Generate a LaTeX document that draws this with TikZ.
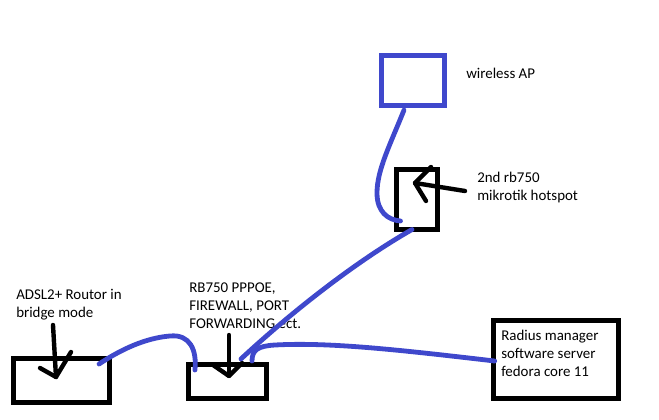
\documentclass[tikz,border=0pt]{standalone}
\usepackage{fontspec}
\setmainfont{Carlito}
\usepackage{xcolor}
\definecolor{penblue}{RGB}{63,72,204}
\tikzset{
	blackbox/.style={draw=black,line width=3.5pt,inner sep=0pt},
	bluebox/.style={draw=penblue,line width=3.5pt,inner sep=0pt},
	bluewire/.style={draw=penblue,line width=3.6pt,line cap=round},
	penarrow/.style={draw=black,line width=3.3pt,line cap=round,line join=round},
	note/.style={anchor=north west,inner sep=0pt,align=left,font=\fontsize{11.2}{13.5}\selectfont}
}

\begin{document}
\begin{tikzpicture}[x=0.75pt,y=-0.75pt]
\useasboundingbox (0,0) rectangle (659,420);

% boxes
\node[blackbox,minimum width=96.5*0.75pt,minimum height=44.5*0.75pt] (router) at (61.5,380.5) {};
\node[blackbox,minimum width=78.5*0.75pt,minimum height=34.5*0.75pt] (rb) at (227.5,381.5) {};
\node[bluebox,minimum width=63.5*0.75pt,minimum height=50.5*0.75pt] (ap) at (413,80.5) {};
\node[blackbox,line width=3.8pt,minimum width=41*0.75pt,minimum height=60*0.75pt] (hotspot) at (417,199.5) {};
\node[blackbox,minimum width=125.5*0.75pt,minimum height=78.5*0.75pt] (server) at (556,359.5) {};

% texts
\node[note] (routernote) at (16,289) {ADSL2+ Routor in\\bridge mode};
\node[note] (rbnote) at (189,283) {RB750 PPPOE,\\FIREWALL, PORT\\FORWARDING ect.};
\node[note] (apnote) at (466,68) {wireless AP};
\node[note] (hotspotnote) at (477,172) {2nd rb750\\mikrotik hotspot};
\node[note] (servernote) at (501,329.5) {Radius manager\\software server\\fedora core 11};

% black arrows
\coordinate (routertail) at (53,325);
\coordinate (routertip) at (56,377);
\coordinate (routerbarba) at (40,368);
\coordinate (routerbarbb) at (71,352);
\draw[penarrow] (routertail) -- (routertip);
\draw[penarrow] (routerbarba) -- (routertip) -- (routerbarbb);

\coordinate (rbtail) at (229,335);
\coordinate (rbtip) at (229,376);
\coordinate (rbbarba) at (213,365);
\coordinate (rbbarbb) at (242,363);
\draw[penarrow] (rbtail) -- (rbtip);
\draw[penarrow] (rbbarba) -- (rbtip) -- (rbbarbb);

\coordinate (hotspottail) at (465,191);
\coordinate (hotspottip) at (415,183);
\coordinate (hotspotbarba) at (431,167);
\coordinate (hotspotbarbb) at (426,201);
\draw[penarrow] (hotspottail) -- (hotspottip);
\draw[penarrow] (hotspotbarba) -- (hotspottip) -- (hotspotbarbb);

% blue wires
\draw[bluewire] ([shift={(-13,-16.5)}]router.east)
	.. controls (120,350) and (145,338) .. (170,336)
	.. controls (190,334) and (197,350) .. ([shift={(9,-11.5)}]rb.west);
\draw[bluewire] ([shift={(13.5,-3)}]rb.north)
	.. controls (285,318) and (350,265) .. ([shift={(-5,-2.5)}]hotspot.south);
\draw[bluewire] ([shift={(24.5,-1)}]rb.north)
	.. controls (252,350) and (258,346) .. (275,345)
	.. controls (330,342) and (400,350) .. ([shift={(3.75,1.5)}]server.west);
\draw[bluewire] ([shift={(-9,2)}]ap.south)
	.. controls (390,145) and (377,170) .. (377,193)
	.. controls (377,212) and (388,220) .. ([shift={(6.5,21.5)}]hotspot.west);

\end{tikzpicture}
\end{document}
